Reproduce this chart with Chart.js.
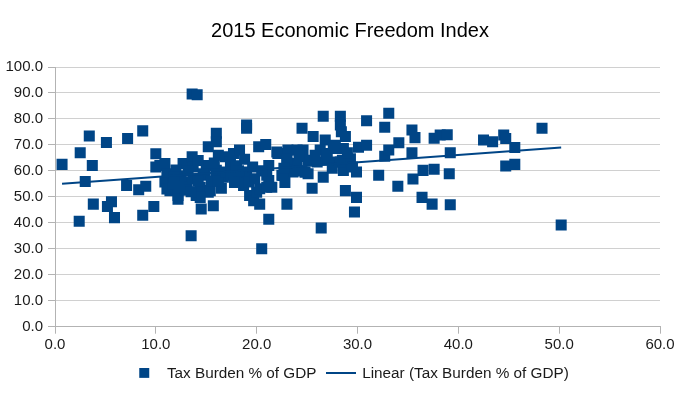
<!DOCTYPE html>
<html>
<head>
<meta charset="utf-8">
<title>2015 Economic Freedom Index</title>
<script src="https://cdn.jsdelivr.net/npm/chart.js@4.4.1/dist/chart.umd.min.js"></script>
<style>
  html, body { margin: 0; padding: 0; background: #fff; }
  #chart { display: block; }
</style>
</head>
<body>
<canvas id="chart" width="700" height="393"></canvas>
<script>
// Tax burden (% of GDP) vs. overall 2015 score
const TAX_BURDEN = [
  0.7, 3.4, 2.5, 3.7, 3.0, 3.8, 2.4, 5.1, 5.2, 5.6, 5.9, 7.2, 8.7, 7.1, 8.3, 9.0, 8.7, 9.8, 10.0, 10.0,
  13.6, 14.1, 13.5,
  10.4, 10.9, 11.1, 10.9, 11.4, 11.1, 11.7, 12.2, 12.2, 12.7, 13.6, 13.7, 13.1, 13.7, 14.4, 14.0, 15.0, 15.2,
  16.0, 16.0, 16.2, 14.9, 15.2, 14.5, 15.7, 16.5, 16.9, 14.7, 16.0, 16.7, 15.4, 14.4, 12.5, 12.0, 13.2, 11.8,
  12.9, 13.5, 14.2, 15.5, 16.2, 15.8, 14.2, 12.3,
  17.4, 17.0, 17.5, 17.7, 18.3, 19.0, 19.0, 18.5, 19.0, 18.7, 19.3, 19.7, 20.3, 20.0, 19.2, 20.3, 21.0, 21.2,
  21.0, 21.2, 20.2, 20.9, 21.2, 20.5, 18.0, 18.8, 19.6, 20.5, 19.8, 18.2, 17.8, 21.5, 22.0,
  23.0, 22.5, 22.1, 23.1, 23.0, 23.6, 24.0, 24.5, 24.6, 25.1, 25.6, 25.1, 25.5, 26.6, 26.8, 26.3, 26.6, 26.9,
  26.4, 27.6, 27.8, 28.3, 28.3, 28.4, 28.8, 28.6, 28.5, 28.6, 28.8, 29.9, 29.9, 29.7, 29.3, 30.1, 30.9, 30.9,
  32.1, 32.7, 32.7, 33.1, 33.1, 34.1, 34.0, 22.6, 23.0, 24.0, 24.8, 26.0, 27.0, 27.8, 28.3, 22.7, 24.2, 25.8,
  27.5, 29.0, 29.5, 22.8, 24.3,
  35.4, 35.7, 37.6, 38.2, 38.9, 35.4, 39.2, 36.5, 37.6, 39.1, 35.5, 36.4, 37.4, 39.2, 42.5, 43.4, 44.5, 44.7,
  45.6, 44.7, 45.6, 48.3, 50.2
];
const FREEDOM_SCORE = [
  62.5, 73.4, 67.0, 62.1, 55.9, 47.2, 40.6, 70.9, 46.3, 48.1, 42.0, 72.5, 75.4, 54.4, 52.7, 54.1, 42.9, 46.3, 66.6, 61.5,
  89.6, 89.3, 35.0,
  62.1, 62.8, 58.9, 55.7, 52.4, 53.0, 55.0, 50.5, 49.1, 62.8, 65.4, 61.5, 55.7, 57.0, 53.7, 50.5, 62.1, 69.3,
  74.5, 71.2, 66.0, 58.3, 51.8, 45.3, 46.6, 53.3, 65.4, 58.9, 60.2, 57.6, 52.4, 49.8, 58.0, 60.3, 60.0, 57.5,
  52.5, 52.0, 56.0, 56.0, 56.0, 63.0, 64.0, 54.0,
  63.4, 59.6, 58.3, 66.7, 68.0, 77.7, 76.4, 57.6, 59.6, 54.4, 50.5, 48.5, 47.2, 51.8, 55.7, 53.1, 53.7, 62.1,
  58.3, 56.3, 69.3, 70.2, 41.4, 30.0, 62.0, 64.5, 61.5, 60.0, 57.0, 60.0, 55.5, 53.7, 67.3,
  47.2, 58.3, 66.7, 68.0, 63.4, 59.6, 62.8, 76.4, 68.0, 64.1, 73.2, 58.9, 53.3, 81.0, 71.9, 68.0, 57.6, 64.1,
  38.0, 68.6, 63.4, 81.0, 77.7, 75.1, 73.2, 68.6, 64.1, 60.2, 52.4, 59.6, 49.8, 44.2, 64.7, 69.1, 69.9, 79.3,
  58.3, 76.8, 65.6, 82.2, 68.0, 70.8, 54.1, 58.2, 64.7, 68.0, 59.5, 63.4, 66.7, 69.9, 63.4, 61.0, 65.5, 66.0,
  61.0, 67.0, 61.5, 55.5, 60.0,
  75.7, 72.8, 72.6, 73.8, 73.9, 67.0, 67.0, 60.2, 60.6, 58.9, 56.9, 49.8, 47.2, 47.0, 71.9, 71.2, 73.8, 72.5,
  69.0, 61.9, 62.5, 76.4, 39.2
];

// linear trend line as shown on the chart
const TREND_INTERCEPT = 54.8;
const TREND_SLOPE = 0.283;

const X_TICKS = [0, 10, 20, 30, 40, 50, 60];
const Y_TICKS = [0, 10, 20, 30, 40, 50, 60, 70, 80, 90, 100];

const SERIES_NAME = "Tax Burden % of GDP";
const TREND_NAME = "Linear (Tax Burden % of GDP)";

const BLUE = "#004586";
const GRID = "#b3b3b3";
const FONT = "'Liberation Sans', Arial, sans-serif";

const points = TAX_BURDEN.map((x, i) => ({ x, y: FREEDOM_SCORE[i] }));
const xMin = Math.min(...TAX_BURDEN), xMax = Math.max(...TAX_BURDEN);
const trend = [xMin, xMax].map(x => ({ x, y: TREND_INTERCEPT + TREND_SLOPE * x }));

// legend swatches: same box width for both, square sits left of centre
function swatchSquare(){
  const c = document.createElement("canvas");
  c.width = 28; c.height = 11;
  const g = c.getContext("2d");
  g.fillStyle = BLUE;
  g.fillRect(8, 0, 10, 10);
  return c;
}
function swatchLine(){
  const c = document.createElement("canvas");
  c.width = 30; c.height = 2;
  const g = c.getContext("2d");
  g.fillStyle = BLUE;
  g.fillRect(0, 0, 30, 2);
  return c;
}
const SW_SQUARE = swatchSquare();
const SW_LINE = swatchLine();

Chart.defaults.font.family = FONT;
Chart.defaults.color = "#1a1a1a";

new Chart(document.getElementById("chart"), {
  type: "scatter",
  data: {
    datasets: [
      {
        label: SERIES_NAME,
        data: points,
        pointStyle: "rect",
        pointRadius: 7.8,
        pointHoverRadius: 7.8,
        backgroundColor: BLUE,
        borderWidth: 0,
        order: 2
      },
      {
        label: TREND_NAME,
        type: "line",
        data: trend,
        showLine: true,
        borderColor: BLUE,
        borderWidth: 2,
        pointRadius: 0,
        fill: false,
        order: 1
      }
    ]
  },
  options: {
    responsive: false,
    animation: false,
    devicePixelRatio: 1,
    layout: { padding: { top: 0, left: 0, right: 0, bottom: 2 } },
    plugins: {
      title: {
        display: true,
        text: "2015 Economic Freedom Index",
        color: "#000",
        font: { size: 20, weight: "normal" },
        padding: { top: 19, bottom: 24 }
      },
      legend: {
        position: "bottom",
        labels: {
          usePointStyle: true,
          pointStyleWidth: 28,
          font: { size: 15.3 },
          padding: 10,
          generateLabels: chart => chart.data.datasets.map((ds, i) => ({
            text: ds.label,
            datasetIndex: i,
            pointStyle: i === 0 ? SW_SQUARE : SW_LINE,
            fillStyle: BLUE,
            strokeStyle: BLUE,
            lineWidth: 0,
            fontColor: "#1a1a1a",
            hidden: false
          }))
        }
      },
      tooltip: { enabled: false }
    },
    scales: {
      x: {
        type: "linear",
        min: 0,
        max: 60,
        afterBuildTicks: s => { s.ticks = X_TICKS.map(v => ({ value: v })); },
        // keep the plot's right edge at 60.0 while the legend stays centred on the page
        afterFit: s => { s.paddingRight = 40; },
        ticks: { font: { size: 15 }, padding: 2, callback: v => Number(v).toFixed(1) },
        grid: { drawOnChartArea: false, drawTicks: true, tickLength: 7, color: GRID },
        border: { color: GRID }
      },
      y: {
        type: "linear",
        min: 0,
        max: 100,
        afterBuildTicks: s => { s.ticks = Y_TICKS.map(v => ({ value: v })); },
        afterFit: s => { s.width = 55; },
        ticks: { font: { size: 15 }, padding: 5, callback: v => Number(v).toFixed(1) },
        grid: { color: "#d0d0d0", tickLength: 7, tickColor: GRID },
        border: { color: GRID }
      }
    }
  }
});
</script>
</body>
</html>
